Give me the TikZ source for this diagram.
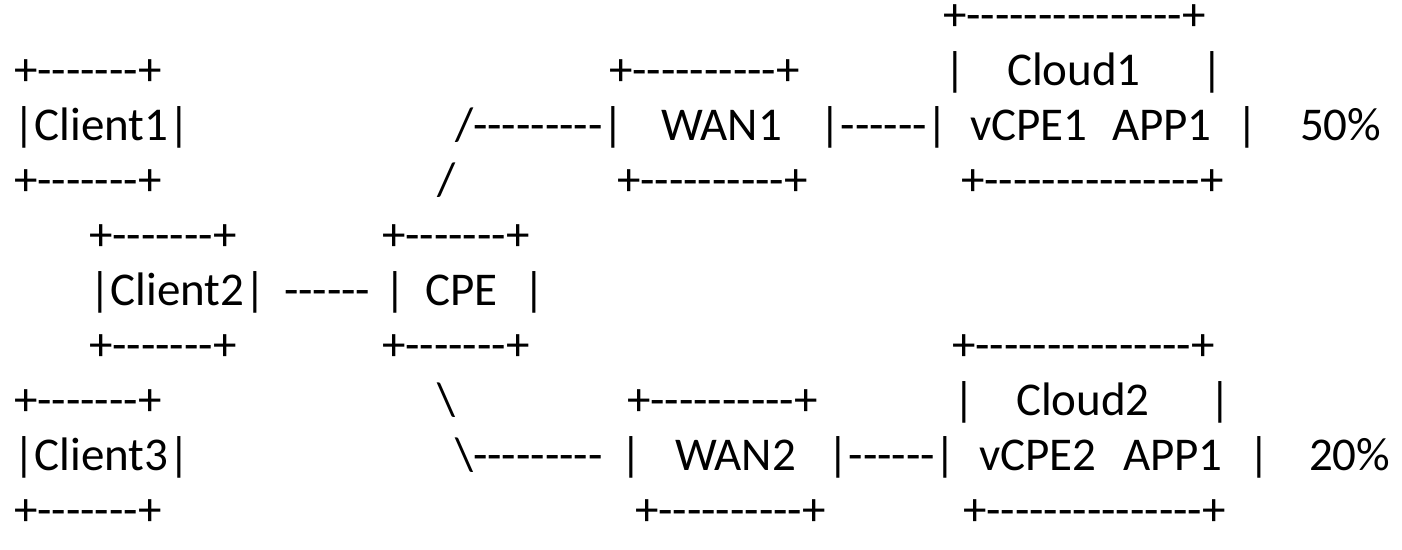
\documentclass[tikz,border=0pt]{standalone}
\usepackage{fontspec}
\setmainfont{Carlito}[Ligatures={TeXOff,CommonOff}]
\tikzset{
  txt/.style={anchor=base west, inner sep=0pt, outer sep=0pt, font=\fontsize{23.5}{28}\selectfont, text=black},
}
% row k baseline (px, downward) = 30.5 + 55 k
\newcommand{\RowY}[1]{-30.5-55*#1}
\begin{document}
\begin{tikzpicture}[x=0.5pt, y=0.5pt]
\useasboundingbox[fill=white] (0,0) rectangle (1402,-550);
% row 0
\node[txt] (c1top) at (943,{\RowY{0}}) {+---------------+};
% row 1
\node[txt] (cl1top) at (14,{\RowY{1}}) {+-------+};
\node[txt] (w1top) at (609,{\RowY{1}}) {+----------+};
\node[txt] (c1l) at (944,{\RowY{1}}) {|};
\node[txt] (c1name) at (1007,{\RowY{1}}) {Cloud1};
\node[txt] (c1r) at (1201,{\RowY{1}}) {|};
% row 2
\node[txt] (cl1) at (13,{\RowY{2}}) {|Client1|};
\node[txt] (l1) at (455,{\RowY{2}}) {/---------|};
\node[txt] (w1) at (661,{\RowY{2}}) {WAN1};
\node[txt] (l2) at (819,{\RowY{2}}) {|------|};
\node[txt] (v1) at (970,{\RowY{2}}) {vCPE1};
\node[txt] (a1) at (1112,{\RowY{2}}) {APP1};
\node[txt] (c1b) at (1236,{\RowY{2}}) {|};
\node[txt] (p1) at (1300,{\RowY{2}}) {50\%};
% row 3
\node[txt] (cl1bot) at (14,{\RowY{3}}) {+-------+};
\node[txt] (s1) at (437,{\RowY{3}}) {/};
\node[txt] (w1bot) at (617,{\RowY{3}}) {+----------+};
\node[txt] (c1bot) at (961,{\RowY{3}}) {+---------------+};
% row 4
\node[txt] (cl2top) at (89,{\RowY{4}}) {+-------+};
\node[txt] (cpetop) at (382,{\RowY{4}}) {+-------+};
% row 5
\node[txt] (cl2) at (89,{\RowY{5}}) {|Client2|};
\node[txt] (l3) at (284,{\RowY{5}}) {------};
\node[txt] (cpel) at (384,{\RowY{5}}) {|};
\node[txt] (cpe) at (425,{\RowY{5}}) {CPE};
\node[txt] (cper) at (523,{\RowY{5}}) {|};
% row 6
\node[txt] (cl2bot) at (89,{\RowY{6}}) {+-------+};
\node[txt] (cpebot) at (382,{\RowY{6}}) {+-------+};
\node[txt] (c2top) at (952,{\RowY{6}}) {+---------------+};
% row 7
\node[txt] (cl3top) at (14,{\RowY{7}}) {+-------+};
\node[txt] (s2) at (437,{\RowY{7}}) {\textbackslash};
\node[txt] (w2top) at (627,{\RowY{7}}) {+----------+};
\node[txt] (c2l) at (953,{\RowY{7}}) {|};
\node[txt] (c2name) at (1016,{\RowY{7}}) {Cloud2};
\node[txt] (c2r) at (1209,{\RowY{7}}) {|};
% row 8
\node[txt] (cl3) at (13,{\RowY{8}}) {|Client3|};
\node[txt] (l4) at (455,{\RowY{8}}) {\textbackslash---------};
\node[txt] (w2l) at (620,{\RowY{8}}) {|};
\node[txt] (w2) at (675,{\RowY{8}}) {WAN2};
\node[txt] (l5) at (827,{\RowY{8}}) {|------|};
\node[txt] (v2) at (979,{\RowY{8}}) {vCPE2};
\node[txt] (a2) at (1123,{\RowY{8}}) {APP1};
\node[txt] (c2b) at (1248,{\RowY{8}}) {|};
\node[txt] (p2) at (1309,{\RowY{8}}) {20\%};
% row 9
\node[txt] (cl3bot) at (14,{\RowY{9}}) {+-------+};
\node[txt] (w2bot) at (635,{\RowY{9}}) {+----------+};
\node[txt] (c2bot) at (963,{\RowY{9}}) {+---------------+};
\end{tikzpicture}
\end{document}
